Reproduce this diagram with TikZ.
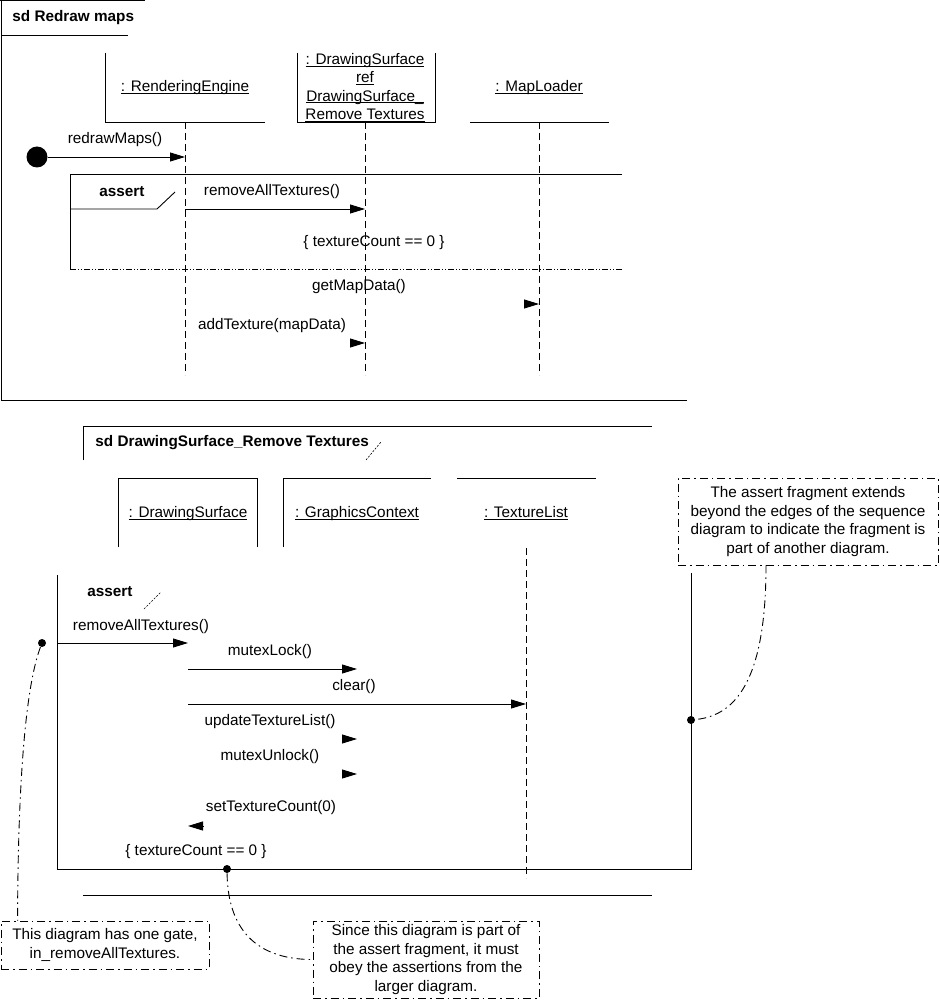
\documentclass[tikz,border=0pt]{standalone}
\usepackage{fontspec}
\setmainfont{Liberation Sans}
\usetikzlibrary{arrows.meta,calc}

\newcommand{\objname}[1]{\underline{\raisebox{0pt}[\height][0pt]{#1}}}

\tikzset{
  lbl/.style={inner sep=0pt, font=\fontsize{15.3}{18.3}\selectfont},
  titletext/.style={inner sep=0pt, font=\fontsize{15.3}{18}\selectfont\bfseries},
  lifeline/.style={dash pattern=on 7pt off 4pt},
  msg/.style={-{Triangle[length=15pt,width=9pt]}},
  fragline/.style={dash pattern=on 6pt off 2pt on 1pt off 2pt on 1pt off 2pt},
  hint/.style={line width=0.6pt, dash pattern=on 2pt off 1.5pt},
  notebox/.style={draw, dash pattern=on 8pt off 4pt on 1.5pt off 4pt, inner sep=0pt, align=center, font=\fontsize{15.3}{18.5}\selectfont},
  notelink/.style={dash pattern=on 8pt off 4pt on 1.5pt off 4pt},
  gatedot/.style={circle, fill, inner sep=0pt, minimum size=8pt}
}

\begin{document}
\begin{tikzpicture}[x=1pt, y=-1pt, line width=0.9pt]
\useasboundingbox (0,0) rectangle (939,1000);

% sd Redraw maps
\draw (0,0.5) -- (145,0.5);
\draw (1,0) -- (1,400) -- (687,400);
\draw (1,35) -- (128,35);
\node[titletext, anchor=west] (sdA) at (12,18) {sd Redraw maps};

\node[lbl] (re) at (185,87) {\objname{: RenderingEngine}};
\node[lbl, align=center] (ds) at (365,87.5) {\objname{: DrawingSurface}\\ \objname{ref}\\ \objname{DrawingSurface\_}\\ \objname{Remove Textures}};
\node[lbl] (ml) at (539,87) {\objname{: MapLoader}};
\draw (105,53) -- (105,122) -- (265,122);
\draw (297,53) -- (297,122) -- (435,122) -- (435,53);
\draw (470,122) -- (609,122);
\draw[lifeline] (re |- 0,122) -- (re |- 0,375);
\draw[lifeline] (ds |- 0,122) -- (ds |- 0,375);
\draw[lifeline] (ml |- 0,122) -- (ml |- 0,375);

\draw (622,174) -- (70,174) -- (70,269);
\draw[fragline] (70,269) -- (622,269);
\draw (70,209) -- (157,209) -- (175,192);
\node[titletext] (asA) at (122,192) {assert};

\node[gatedot, minimum size=21pt] (start) at (37,157) {};
\node[lbl] (m1) at (115,140) {redrawMaps()};
\draw[msg] (start) -- (re |- start);
\node[lbl] (m2) at (272,192) {removeAllTextures()};
\draw[msg] (re |- 0,209) -- (ds |- 0,209);
\node[lbl] (c1) at (374,243) {\{ textureCount == 0 \}};
\node[lbl] (m3) at (359,287) {getMapData()};
\draw[msg] ($(ml |- 0,304)+(-15,0)$) -- (ml |- 0,304);
\node[lbl] (m4) at (272,326) {addTexture(mapData)};
\draw[msg] ($(ds |- 0,343)+(-15,0)$) -- (ds |- 0,343);

% sd DrawingSurface_Remove Textures
\draw (83,460) -- (83,426) -- (652,426);
\draw (83,895) -- (652,895);
\node[titletext, anchor=west] (sdB) at (95,443) {sd DrawingSurface\_Remove Textures};
\draw[hint] (366,460) -- (381,442);

\node[lbl] (dsB) at (188,513) {\objname{: DrawingSurface}};
\node[lbl] (gc) at (357,513) {\objname{: GraphicsContext}};
\node[lbl] (tl) at (526,513) {\objname{: TextureList}};
\draw (118,547) -- (118,478) -- (257,478) -- (257,547);
\draw (283,547) -- (283,478) -- (431,478);
\draw (457,478) -- (596,478);
\draw[lifeline] (tl |- 0,548) -- (tl |- 0,878);

\draw (57,575) -- (57,869) -- (691,869) -- (691,573);
\node[titletext] (asB) at (110,592) {assert};
\draw[hint] (144,609) -- (161,592);

\node[gatedot] (gate) at (42,643) {};
\coordinate (gateIn) at (57,643);
\node[lbl] (b1) at (141,627) {removeAllTextures()};
\draw[msg] (gateIn) -- (dsB |- gateIn);
\node[lbl] (b2) at (270,652) {mutexLock()};
\draw[msg] (dsB |- 0,669) -- (gc |- 0,669);
\node[lbl] (b3) at (354,687) {clear()};
\draw[msg] (dsB |- 0,704) -- (tl |- 0,704);
\node[lbl] (b4) at (270,722) {updateTextureList()};
\draw[msg] ($(gc |- 0,739)+(-15,0)$) -- (gc |- 0,739);
\node[lbl] (b5) at (270,757) {mutexUnlock()};
\draw[msg] ($(gc |- 0,774)+(-15,0)$) -- (gc |- 0,774);
\node[lbl] (b6) at (271,808) {setTextureCount(0)};
\draw[msg] ($(dsB |- 0,826)+(15,0)$) -- (dsB |- 0,826);
\node[lbl] (c2) at (196,852) {\{ textureCount == 0 \}};

\node[gatedot] (dotB) at (227,869) {};
\node[gatedot] (dotR) at (691,720) {};

\node[notebox, minimum width=260pt, minimum height=87pt] (n1) at (808,521.5) {The assert fragment extends\\ beyond the edges of the sequence\\ diagram to indicate the fragment is\\ part of another diagram.};
\node[notebox, minimum width=208pt, minimum height=48pt] (n2) at (105,945) {This diagram has one gate,\\ in\_removeAllTextures.};
\node[notebox, minimum width=226pt, minimum height=77pt] (n3) at (426,959.5) {Since this diagram is part of\\ the assert fragment, it must\\ obey the assertions from the\\ larger diagram.};

\draw[notelink] ($(n1.south)+(-42,0)$) .. controls (766,690) and (730,716) .. (dotR);
\draw[notelink] (gate) .. controls (28,680) and (18,760) .. ($(n2.north west)+(17,0)$);
\draw[notelink] (dotB) .. controls (228,935) and (262,959.5) .. (n3.west);
\end{tikzpicture}
\end{document}
